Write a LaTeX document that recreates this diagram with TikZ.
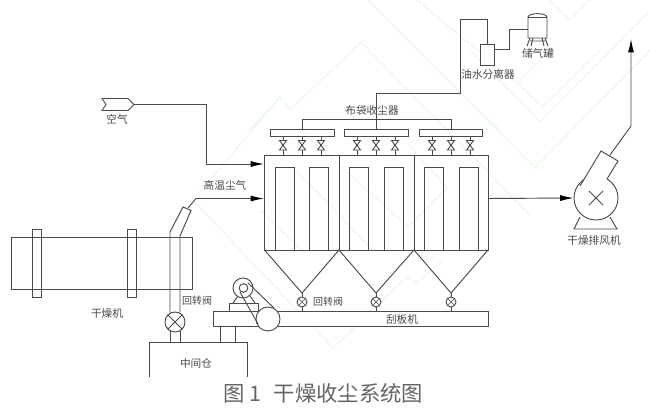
\documentclass[tikz,border=0pt]{standalone}
\usepackage{fontspec}
\setmainfont{Noto Sans CJK SC}
\usetikzlibrary{arrows.meta}
\definecolor{ink}{HTML}{4A4A4A}
\definecolor{wm}{HTML}{EAFAEA}
\tikzset{
 x=0.75pt,y=-0.75pt,
 line/.style={draw=ink,line width=0.7pt},
 flow/.style={line,-{Latex[length=10pt,width=4.5pt,color=black]}},
 wmark/.style={draw=wm,line width=0.9pt},
 lab/.style={text=ink,font=\fontsize{8}{9}\selectfont,inner sep=0pt},
 box/.style={line,fill=white,inner sep=0pt,minimum width=0pt},
}
\begin{document}
\begin{tikzpicture}
\useasboundingbox (0,0) rectangle (650,415);
\fill[white] (0,0) rectangle (650,415);
% watermark
\draw[wmark] (250,130)--(280,97)--(290,110)--(361,42)--(530,215);
\draw[wmark] (280,97)--(193,200)--(333,348)--(407,277)--(417,283)--(443,260);
\draw[wmark] (368,0)--(535,168)--(650,50);
\draw[wmark] (417,0)--(493,63)--(518,83)--(542,107)--(600,50);
\draw[wmark] (518,83)--(553,47);
\draw[wmark] (470,50)--(540,122)--(648,12);
\draw[wmark] (550,0)--(570,20)--(590,0);
\draw[wmark] (407,143)--(447,188)--(408,227)--(300,130);
\draw[wmark] (260,210)--(305,253);
\draw[wmark] (293,167)--(373,250);
\draw[wmark] (477,110)--(500,130);
% dryer
\node[box,fill=none,minimum width=135.5pt,minimum height=39pt,anchor=north west] (dryer) at (11,237) {};
\foreach \n/\x in {a/32.5,b/127.5}
  \draw[line] (\x,229.5) rectangle (\x+9,297);
\node[lab] (dryerlab) at (107,313) {干燥机};
% intermediate bin
\coordinate (binTL) at (149,377); \coordinate (binTR) at (247,377);
\draw[line] (binTL)--(149,342)--(247,342)--(binTR);
\node[lab] (binlab) at (196,363) {中间仓};
% duct and valve
\node[line,circle,fill=white,minimum size=15pt,inner sep=0pt] (bigvalve) at (175,322) {};
\draw[line] (bigvalve.north east)--(bigvalve.south west) (bigvalve.north west)--(bigvalve.south east);
\draw[line] (170,312.5)--(170,232)--(183,207)--(191,210.5)--(180,236)--(180,312.5);
\draw[line] (170,331)--(170,342) (180,331)--(180,342);
\node[lab,font=\fontsize{7.5}{9}\selectfont] (v1lab) at (197,301) {回转阀};
% conveyor
\node[box,minimum width=206pt,minimum height=11.25pt,anchor=north west] (conv) at (213,311) {};
\node[lab] (convlab) at (402,319) {刮板机};
\draw[line] (220,326)--(220,342) (235,326)--(235,342);
% drive
\draw[line] (229,311)--(229,303)--(258,303)--(258,311);
\draw[line] (233,303)--(238,296) (255,303)--(250,296);
\node[line,circle,fill=white,minimum size=15pt,inner sep=0pt] (motor) at (243,288) {};
\node[line,circle,minimum size=6.5pt,inner sep=0pt] (motorin) at (243.5,288) {};
\node[line,circle,fill=white,minimum size=18pt,inner sep=0pt] (pulley) at (268,319) {};
\draw[line] (240,292)--(258,324) (248,283)--(274,308);
% air
\coordinate (airtip) at (134,104.5);
\draw[line] (102,98.5)--(128,98.5)--(airtip)--(128,110.5)--(102,110.5)--(106,104.5)--cycle;
\node[lab] (airlab) at (117,119) {空气};
\coordinate (airin) at (264,164);
\draw[flow] (airtip)--(206,104.5)--(206,164)--(airin);
% hot gas
\coordinate (hotin) at (264,198.5);
\draw[line] (188,208)--(196,198.5);
\draw[flow] (196,198.5)--(hotin);
\node[lab] (hotlab) at (225,185) {高温尘气};
% collector
\draw[line] (264.5,155.5) rectangle (488,250);
\draw[line] (339,155.5)--(339,250) (414,155.5)--(414,250);
\foreach \x in {275,309,349,384,424,459}
  \draw[line] (\x,250)--(\x,167)--(\x+19.5,167)--(\x+19.5,250);
% hoppers and small valves
\draw[line] (264.5,250)--(302,293)--(339,250)--(376,293)--(414,250)--(451,293)--(488,250);
\foreach \x in {302,376,451}{
  \draw[line] (\x,293)--(\x,311);
  \node[line,circle,fill=white,minimum size=7.5pt,inner sep=0pt] (sv\x) at (\x,302) {};
  \draw[line,line width=0.5pt] (sv\x.north east)--(sv\x.south west) (sv\x.north west)--(sv\x.south east);
}
\node[lab,font=\fontsize{7.5}{9}\selectfont] (v2lab) at (328,302) {回转阀};
% manifolds
\draw[line] (302,129)--(302,119)--(451,119)--(451,129);
\draw[line] (376.5,129)--(376.5,93)--(460,93)--(460,19)--(487,19)--(487,44);
\foreach \l/\r in {270/334,344/408,419/482}
  \draw[line] (\l,129) rectangle (\r,136);
\foreach \x in {283,302,321,357,376,395,432,451,470}{
  \draw[line] (\x,136)--(\x,155.5);
  \draw[line,fill=white] (\x-3.5,140.5)--(\x+3.5,140.5)--(\x-3.5,150)--(\x+3.5,150)--cycle;
}
\node[lab] (baglab) at (372,110) {布袋收尘器};
% separator and tank
\node[box,minimum width=10.5pt,minimum height=15.75pt,anchor=north west] (sep) at (480,44) {};
\draw[line] (494,49.5)--(509,49.5)--(509,29)--(528,29);
\draw[line] (528,38)--(528,17) .. controls (529,12.5) and (546,12.5) .. (547,17)--(547,38)--cycle;
\draw[line] (528,17)--(547,17);
\draw[line] (530,38)--(527,46) (533,38)--(531,46) (542,38)--(544,46) (545,38)--(548,46) (530,41)--(545,41);
\node[lab] (seplab) at (488,74) {油水分离器};
\node[lab] (tanklab) at (538,53) {储气罐};
% fan
\node[line,circle,minimum size=33pt,inner sep=0pt] (fan) at (596,198) {};
\fill[white] (580,186)--(601,151)--(618,161)--(607,179)--(600,190)--cycle;
\draw[line] (589,191)--(603,205) (603,191)--(589,205);
\coordinate (fanin) at (fan.west);
\coordinate (collout) at (488,198.5);
\draw[flow] (collout)--(fanin);
\draw[line] (580,186)--(601,151)--(618,161)--(607,179);
\draw[line] (580,217)--(574,229)--(617,229)--(610,217);
\coordinate (stackend) at (631,39);
\draw[flow] (610,155)--(631,126)--(stackend);
\node[lab] (fanlab) at (594,240) {干燥排风机};
% caption
\node[text=ink!85,font=\fontsize{16}{18}\selectfont,inner sep=0pt] (caption) at (323.5,393) {图\hspace{0.2em}1\hspace{0.6em}干燥收尘系统图};
\end{tikzpicture}
\end{document}
